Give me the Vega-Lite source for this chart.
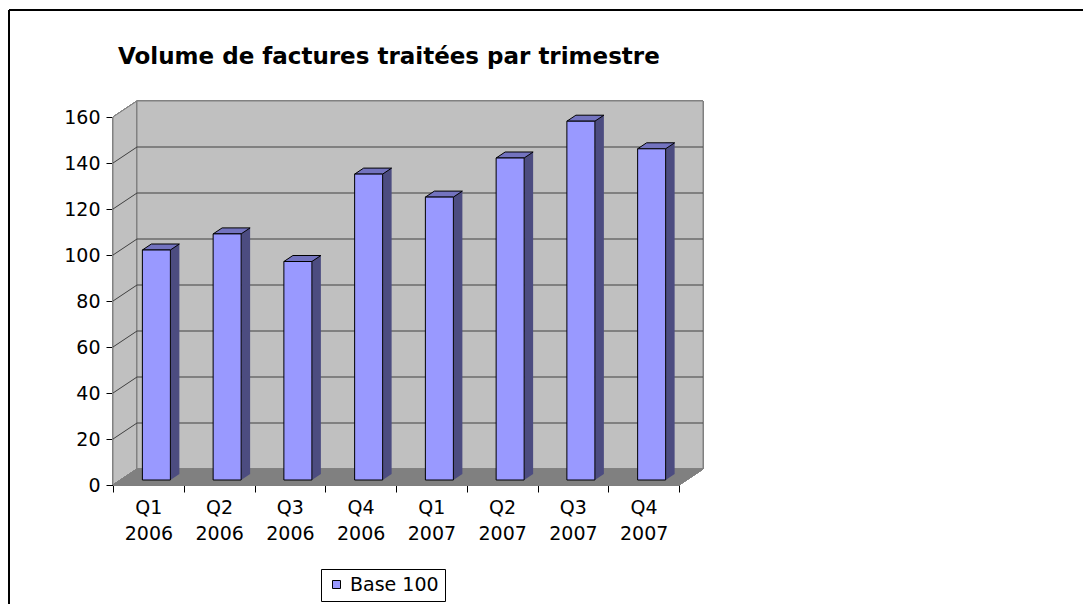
{
  "$schema": "https://vega.github.io/schema/vega-lite/v6.json",
  "width": 566,
  "height": 368,
  "autosize": {"type": "none"},
  "padding": {"left": 113, "top": 117, "right": 404, "bottom": 119},
  "background": "white",
  "config": {
    "view": {"stroke": null},
    "font": "DejaVu Sans",
    "axisX": {"domainColor": "black", "tickColor": "black", "tickSize": 7, "tickBand": "extent", "labelFont": "DejaVu Sans", "labelFontSize": 19, "labelColor": "black", "labelLineHeight": 26, "labelAngle": 0, "labelPadding": 6, "grid": false, "zindex": 1},
    "axisY": {"domainColor": "black", "tickColor": "black", "tickSize": 7, "labelFont": "DejaVu Sans", "labelFontSize": 19, "labelColor": "black", "labelPadding": 6, "grid": false, "zindex": 1}
  },
  "title": {"text": "Volume de factures traitées par trimestre", "anchor": "start", "frame": "group", "dx": 5, "offset": -61, "font": "DejaVu Sans", "fontSize": 23, "fontWeight": "bold", "color": "black"},
  "data": {"values": [
    {"q": "Q1 2006", "v": 100, "s": "Base 100"},
    {"q": "Q2 2006", "v": 107, "s": "Base 100"},
    {"q": "Q3 2006", "v": 95, "s": "Base 100"},
    {"q": "Q4 2006", "v": 133, "s": "Base 100"},
    {"q": "Q1 2007", "v": 123, "s": "Base 100"},
    {"q": "Q2 2007", "v": 140, "s": "Base 100"},
    {"q": "Q3 2007", "v": 156, "s": "Base 100"},
    {"q": "Q4 2007", "v": 144, "s": "Base 100"}
  ]},
  "layer": [
    {
      "mark": {"type": "point", "shape": "M-104 500 L-104 -107 L1000 -107", "size": 4, "filled": false, "stroke": "black", "strokeWidth": 1, "opacity": 1},
      "encoding": {
        "x": {"datum": "Q1 2006", "bandPosition": 0, "type": "nominal", "scale": {"type": "band", "domain": ["Q1 2006", "Q2 2006", "Q3 2006", "Q4 2006", "Q1 2007", "Q2 2007", "Q3 2007", "Q4 2007"], "paddingInner": 0, "paddingOuter": 0}, "title": null},
        "y": {"datum": 160, "type": "quantitative", "scale": {"domain": [0, 160], "nice": false}, "title": null}
      }
    },
    {
      "mark": {"type": "point", "shape": "M0 0 L0 -368 L24 -384 L24 -16 Z", "size": 4, "filled": true, "fill": "#c0c0c0", "stroke": "#808080", "strokeWidth": 1, "opacity": 1},
      "encoding": {
        "x": {"datum": "Q1 2006", "bandPosition": 0, "type": "nominal", "scale": {"type": "band", "domain": ["Q1 2006", "Q2 2006", "Q3 2006", "Q4 2006", "Q1 2007", "Q2 2007", "Q3 2007", "Q4 2007"], "paddingInner": 0, "paddingOuter": 0}, "title": null},
        "y": {"datum": 0, "type": "quantitative", "scale": {"domain": [0, 160], "nice": false}, "title": null}
      }
    },
    {
      "mark": {"type": "point", "shape": "M24 -16 L590 -16 L590 -384 L24 -384 Z", "size": 4, "filled": true, "fill": "#c0c0c0", "stroke": "#808080", "strokeWidth": 1, "opacity": 1},
      "encoding": {
        "x": {"datum": "Q1 2006", "bandPosition": 0, "type": "nominal", "scale": {"type": "band", "domain": ["Q1 2006", "Q2 2006", "Q3 2006", "Q4 2006", "Q1 2007", "Q2 2007", "Q3 2007", "Q4 2007"], "paddingInner": 0, "paddingOuter": 0}, "title": null},
        "y": {"datum": 0, "type": "quantitative", "scale": {"domain": [0, 160], "nice": false}, "title": null}
      }
    },
    {
      "data": {"values": [{"g": 20}, {"g": 40}, {"g": 60}, {"g": 80}, {"g": 100}, {"g": 120}, {"g": 140}]},
      "mark": {"type": "point", "shape": "M0 0 L24 -16 L590 -16", "size": 4, "filled": false, "stroke": "#404040", "strokeWidth": 1, "opacity": 1},
      "encoding": {
        "x": {"datum": "Q1 2006", "bandPosition": 0, "type": "nominal", "scale": {"type": "band", "domain": ["Q1 2006", "Q2 2006", "Q3 2006", "Q4 2006", "Q1 2007", "Q2 2007", "Q3 2007", "Q4 2007"], "paddingInner": 0, "paddingOuter": 0}, "title": null},
        "y": {"field": "g", "type": "quantitative", "scale": {"domain": [0, 160], "nice": false}, "title": null}
      }
    },
    {
      "mark": {"type": "point", "shape": "M-283 0 L283 0 L307 -16 L-259 -16 Z", "size": 4, "filled": true, "fill": "#808080", "stroke": "#808080", "strokeWidth": 1, "opacity": 1},
      "encoding": {
        "x": {"datum": "Q1 2007", "bandPosition": 0, "type": "nominal", "scale": {"type": "band", "domain": ["Q1 2006", "Q2 2006", "Q3 2006", "Q4 2006", "Q1 2007", "Q2 2007", "Q3 2007", "Q4 2007"], "paddingInner": 0, "paddingOuter": 0}, "title": null},
        "y": {"datum": 0, "type": "quantitative", "scale": {"domain": [0, 160], "nice": false}, "title": null}
      }
    },
    {
      "mark": {"type": "bar", "width": 9, "fill": "#4c4c80", "xOffset": 26.5, "yOffset": -11, "y2Offset": -11},
      "encoding": {
        "x": {"field": "q", "type": "nominal", "sort": null, "scale": {"type": "band", "domain": ["Q1 2006", "Q2 2006", "Q3 2006", "Q4 2006", "Q1 2007", "Q2 2007", "Q3 2007", "Q4 2007"], "paddingInner": 0, "paddingOuter": 0}, "title": null},
        "y": {"field": "v", "type": "quantitative", "scale": {"domain": [0, 160], "nice": false}, "title": null}
      }
    },
    {
      "mark": {"type": "point", "shape": "M0 0 L0 -6 L9 -6 Z", "size": 4, "filled": true, "fill": "#4c4c80", "strokeWidth": 0, "opacity": 1, "xOffset": 22, "yOffset": -5},
      "encoding": {
        "x": {"field": "q", "type": "nominal", "sort": null, "scale": {"type": "band", "domain": ["Q1 2006", "Q2 2006", "Q3 2006", "Q4 2006", "Q1 2007", "Q2 2007", "Q3 2007", "Q4 2007"], "paddingInner": 0, "paddingOuter": 0}, "title": null},
        "y": {"datum": 0, "type": "quantitative", "scale": {"domain": [0, 160], "nice": false}, "title": null}
      }
    },
    {
      "mark": {"type": "point", "shape": "M-14 0 L14 0 L23 -6 L-5 -6 Z", "size": 4, "filled": true, "fill": "#7373bf", "stroke": "black", "strokeWidth": 1, "opacity": 1, "xOffset": 8, "yOffset": -5},
      "encoding": {
        "x": {"field": "q", "type": "nominal", "sort": null, "scale": {"type": "band", "domain": ["Q1 2006", "Q2 2006", "Q3 2006", "Q4 2006", "Q1 2007", "Q2 2007", "Q3 2007", "Q4 2007"], "paddingInner": 0, "paddingOuter": 0}, "title": null},
        "y": {"field": "v", "type": "quantitative", "scale": {"domain": [0, 160], "nice": false}, "title": null}
      }
    },
    {
      "mark": {"type": "bar", "width": 28, "stroke": "black", "strokeWidth": 1, "xOffset": 8, "yOffset": -5, "y2Offset": -5},
      "encoding": {
        "x": {"field": "q", "type": "nominal", "sort": null, "scale": {"type": "band", "domain": ["Q1 2006", "Q2 2006", "Q3 2006", "Q4 2006", "Q1 2007", "Q2 2007", "Q3 2007", "Q4 2007"], "paddingInner": 0, "paddingOuter": 0}, "title": null, "axis": {"labelExpr": "split(datum.label, ' ')"}},
        "y": {"field": "v", "type": "quantitative", "scale": {"domain": [0, 160], "nice": false}, "title": null, "axis": {"values": [0, 20, 40, 60, 80, 100, 120, 140, 160]}},
        "color": {"field": "s", "type": "nominal", "scale": {"domain": ["Base 100"], "range": ["#9999ff"]}, "legend": {"orient": "none", "legendX": 208, "legendY": 452, "title": null, "strokeColor": "black", "fillColor": "white", "padding": 6, "symbolType": "square", "symbolSize": 64, "symbolStrokeColor": "black", "symbolStrokeWidth": 1, "symbolOpacity": 1, "labelFont": "DejaVu Sans", "labelFontSize": 19, "labelColor": "black", "labelOffset": 4}}
      }
    }
  ]
}
